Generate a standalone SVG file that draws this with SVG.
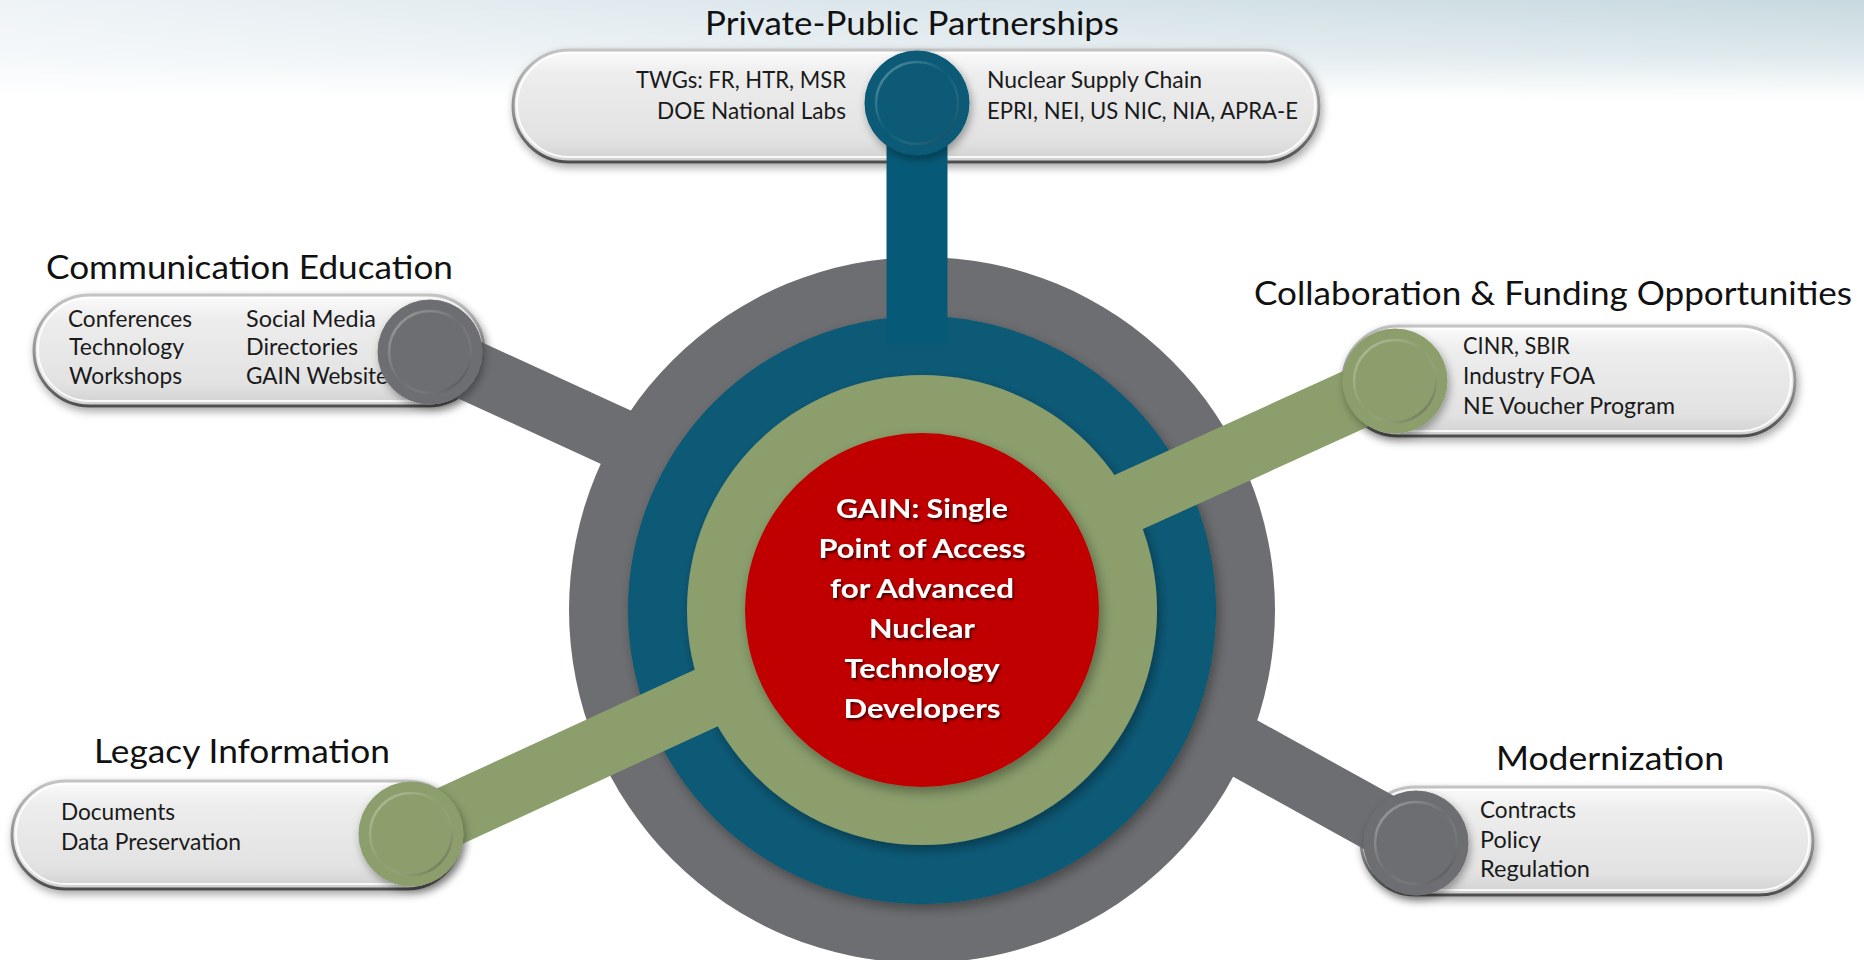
<svg xmlns="http://www.w3.org/2000/svg" width="1864" height="960" viewBox="0 0 1864 960">
  <defs>
    <linearGradient id="bgH" x1="0" y1="0" x2="1" y2="0">
      <stop offset="0" stop-color="#eef3f6"/>
      <stop offset="0.45" stop-color="#dbe6eb"/>
      <stop offset="1" stop-color="#c7d9df"/>
    </linearGradient>
    <linearGradient id="bgV" x1="0" y1="0" x2="0" y2="1">
      <stop offset="0" stop-color="#fff" stop-opacity="1"/>
      <stop offset="0.55" stop-color="#fff" stop-opacity="0.6"/>
      <stop offset="1" stop-color="#fff" stop-opacity="0"/>
    </linearGradient>
    <mask id="bgMask" maskUnits="userSpaceOnUse" x="0" y="0" width="1864" height="100">
      <rect x="0" y="0" width="1864" height="100" fill="url(#bgV)"/>
    </mask>
    <linearGradient id="pillFill" x1="0" y1="0" x2="0" y2="1">
      <stop offset="0" stop-color="#fbfbfb"/>
      <stop offset="0.22" stop-color="#ededed"/>
      <stop offset="0.8" stop-color="#e2e2e2"/>
      <stop offset="1" stop-color="#d0d0d0"/>
    </linearGradient>
    <linearGradient id="pillStroke" x1="0" y1="0" x2="0" y2="1">
      <stop offset="0" stop-color="#c4c4c4"/>
      <stop offset="0.6" stop-color="#8a8a8a"/>
      <stop offset="1" stop-color="#4e4e4e"/>
    </linearGradient>
    <linearGradient id="rim" x1="0" y1="0" x2="1" y2="1">
      <stop offset="0" stop-color="#ffffff" stop-opacity="0.35"/>
      <stop offset="0.5" stop-color="#ffffff" stop-opacity="0"/>
      <stop offset="1" stop-color="#000000" stop-opacity="0.45"/>
    </linearGradient>
    <filter id="shadow" x="-20%" y="-20%" width="140%" height="150%">
      <feDropShadow dx="2" dy="4" stdDeviation="4" flood-color="#000" flood-opacity="0.35"/>
    </filter>
    <filter id="ringShadow" x="-10%" y="-10%" width="120%" height="120%">
      <feDropShadow dx="3" dy="5" stdDeviation="6" flood-color="#000" flood-opacity="0.35"/>
    </filter>
    <filter id="txtShadow" x="-10%" y="-30%" width="120%" height="160%">
      <feDropShadow dx="1.5" dy="2" stdDeviation="1.2" flood-color="#000" flood-opacity="0.65"/>
    </filter>
    <style>
      .title { font-family: Lato, 'Open Sans', 'Liberation Sans', sans-serif; font-size: 32px; fill: #111; }
      .item { font-family: Lato, 'Open Sans', 'Liberation Sans', sans-serif; font-size: 22.5px; fill: #1a1a1a; }
      .hubtxt { font-family: Lato, 'Open Sans', 'Liberation Sans', sans-serif; font-size: 26px; font-weight: bold; fill: #ffffff; text-anchor: middle; }
      .pill { fill: url(#pillFill); stroke: url(#pillStroke); stroke-width: 3; filter: url(#shadow); }
      .pillhi { fill: none; stroke: #ffffff; stroke-opacity: 0.85; stroke-width: 2; }
      .bar { fill: none; stroke-width: 61; stroke-linecap: butt; }
      .gray { fill: #6d6e71; stroke: #6d6e71; }
      .blue { fill: #075a77; stroke: #075a77; }
      .green { fill: #8b9e6c; stroke: #8b9e6c; }
      .rimc { fill: none; stroke: url(#rim); stroke-width: 2.5; }
    </style>
  </defs>

  <!-- background -->
  <rect x="0" y="0" width="1864" height="960" fill="#ffffff"/>
  <rect x="0" y="0" width="1864" height="100" fill="url(#bgH)" mask="url(#bgMask)"/>

  <!-- Node: Private-Public Partnerships -->
  <g id="node-private-public">
    <text class="title" x="912" y="35" text-anchor="middle" textLength="414" lengthAdjust="spacingAndGlyphs">Private-Public Partnerships</text>
    <rect class="pill" x="513" y="50" width="806" height="112" rx="56"/>
    <rect class="pillhi" x="517" y="53" width="798" height="104" rx="52"/>
    <text class="item" x="846" y="88" text-anchor="end" textLength="210" lengthAdjust="spacingAndGlyphs">TWGs: FR, HTR, MSR</text>
    <text class="item" x="846" y="119" text-anchor="end" textLength="189" lengthAdjust="spacingAndGlyphs">DOE National Labs</text>
    <text class="item" x="987" y="88" textLength="215" lengthAdjust="spacingAndGlyphs">Nuclear Supply Chain</text>
    <text class="item" x="987" y="119" textLength="311" lengthAdjust="spacingAndGlyphs">EPRI, NEI, US NIC, NIA, APRA-E</text>
  </g>

  <!-- Node: Communication Education -->
  <g id="node-communication">
    <text class="title" x="46" y="279" textLength="407" lengthAdjust="spacingAndGlyphs">Communication Education</text>
    <rect class="pill" x="34" y="295" width="450" height="111" rx="55.5"/>
    <rect class="pillhi" x="38" y="298" width="442" height="103" rx="51.5"/>
    <text class="item" x="68" y="327" textLength="124" lengthAdjust="spacingAndGlyphs">Conferences</text>
    <text class="item" x="69" y="355" textLength="115" lengthAdjust="spacingAndGlyphs">Technology</text>
    <text class="item" x="69" y="384" textLength="113" lengthAdjust="spacingAndGlyphs">Workshops</text>
    <text class="item" x="246" y="327" textLength="130" lengthAdjust="spacingAndGlyphs">Social Media</text>
    <text class="item" x="246" y="355" textLength="112" lengthAdjust="spacingAndGlyphs">Directories</text>
    <text class="item" x="246" y="384" textLength="142" lengthAdjust="spacingAndGlyphs">GAIN Website</text>
  </g>

  <!-- Node: Collaboration & Funding Opportunities -->
  <g id="node-collaboration">
    <text class="title" x="1254" y="305" textLength="598" lengthAdjust="spacingAndGlyphs">Collaboration &amp; Funding Opportunities</text>
    <rect class="pill" x="1343" y="326" width="452" height="110" rx="55"/>
    <rect class="pillhi" x="1347" y="329" width="444" height="102" rx="51"/>
    <text class="item" x="1463" y="354" textLength="107" lengthAdjust="spacingAndGlyphs">CINR, SBIR</text>
    <text class="item" x="1463" y="384" textLength="132" lengthAdjust="spacingAndGlyphs">Industry FOA</text>
    <text class="item" x="1463" y="414" textLength="212" lengthAdjust="spacingAndGlyphs">NE Voucher Program</text>
  </g>

  <!-- Node: Legacy Information -->
  <g id="node-legacy">
    <text class="title" x="94" y="763" textLength="296" lengthAdjust="spacingAndGlyphs">Legacy Information</text>
    <rect class="pill" x="12" y="781" width="449" height="108" rx="54"/>
    <rect class="pillhi" x="16" y="784" width="441" height="100" rx="50"/>
    <text class="item" x="61" y="820" textLength="114" lengthAdjust="spacingAndGlyphs">Documents</text>
    <text class="item" x="61" y="850" textLength="180" lengthAdjust="spacingAndGlyphs">Data Preservation</text>
  </g>

  <!-- Node: Modernization -->
  <g id="node-modernization">
    <text class="title" x="1496" y="770" textLength="228" lengthAdjust="spacingAndGlyphs">Modernization</text>
    <rect class="pill" x="1361" y="787" width="452" height="108" rx="54"/>
    <rect class="pillhi" x="1365" y="790" width="444" height="100" rx="50"/>
    <text class="item" x="1480" y="818" textLength="96" lengthAdjust="spacingAndGlyphs">Contracts</text>
    <text class="item" x="1480" y="848" textLength="61" lengthAdjust="spacingAndGlyphs">Policy</text>
    <text class="item" x="1480" y="877" textLength="110" lengthAdjust="spacingAndGlyphs">Regulation</text>
  </g>

  <!-- Central hub -->
  <g id="node-gain-hub">
    <circle cx="922" cy="610" r="353" fill="#6d6e71"/>
    <circle cx="922" cy="610" r="294" fill="#075a77" filter="url(#ringShadow)"/>
    <circle cx="922" cy="610" r="235" fill="#8b9e6c" filter="url(#ringShadow)"/>
    <circle cx="922" cy="610" r="177" fill="#c00000" filter="url(#ringShadow)"/>
    <g filter="url(#txtShadow)">
      <text class="hubtxt" x="922" y="518" textLength="172" lengthAdjust="spacingAndGlyphs">GAIN: Single</text>
      <text class="hubtxt" x="922" y="558" textLength="207" lengthAdjust="spacingAndGlyphs">Point of Access</text>
      <text class="hubtxt" x="922" y="598" textLength="184" lengthAdjust="spacingAndGlyphs">for Advanced</text>
      <text class="hubtxt" x="922" y="638" textLength="106" lengthAdjust="spacingAndGlyphs">Nuclear</text>
      <text class="hubtxt" x="922" y="678" textLength="155" lengthAdjust="spacingAndGlyphs">Technology</text>
      <text class="hubtxt" x="922" y="718" textLength="157" lengthAdjust="spacingAndGlyphs">Developers</text>
    </g>
  </g>

  <!-- Connectors (spokes and their end handles) -->
  <g id="connectors">
    <line class="bar gray" x1="430" y1="352" x2="648" y2="452"/>
    <line class="bar gray" x1="1416" y1="843" x2="1219" y2="734"/>
    <line class="bar blue" x1="917" y1="103" x2="917" y2="345"/>
    <line class="bar green" x1="1395" y1="381" x2="1109" y2="511"/>
    <line class="bar green" x1="411" y1="834" x2="728" y2="688"/>

    <g id="handle-private-public" filter="url(#shadow)">
      <circle class="blue" cx="917" cy="103" r="52"/>
      <circle class="rimc" cx="917" cy="103" r="41"/>
    </g>
    <g id="handle-communication" filter="url(#shadow)">
      <circle class="gray" cx="430" cy="352" r="52"/>
      <circle class="rimc" cx="430" cy="352" r="41"/>
    </g>
    <g id="handle-collaboration" filter="url(#shadow)">
      <circle class="green" cx="1395" cy="381" r="52"/>
      <circle class="rimc" cx="1395" cy="381" r="41"/>
    </g>
    <g id="handle-legacy" filter="url(#shadow)">
      <circle class="green" cx="411" cy="834" r="52"/>
      <circle class="rimc" cx="411" cy="834" r="41"/>
    </g>
    <g id="handle-modernization" filter="url(#shadow)">
      <circle class="gray" cx="1416" cy="843" r="52"/>
      <circle class="rimc" cx="1416" cy="843" r="41"/>
    </g>
  </g>
</svg>
